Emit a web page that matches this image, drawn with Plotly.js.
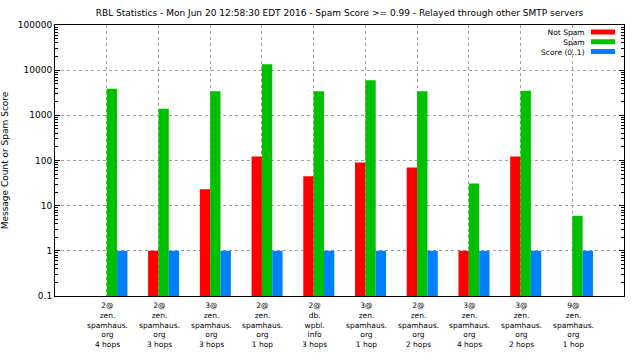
<!DOCTYPE html>
<html>
<head>
<meta charset="utf-8">
<script src="https://cdn.plot.ly/plotly-3.0.1.min.js"></script>
<style>html,body{margin:0;padding:0;background:#fff;} #chart{width:640px;height:360px;}</style>
</head>
<body>
<div id="chart"></div>
<script>
// ---- data ----
var categories = [0, 1, 2, 3, 4, 5, 6, 7, 8, 9];
var tickLabels = [
  '2@\nzen.\nspamhaus.\norg\n4 hops',
  '2@\nzen.\nspamhaus.\norg\n3 hops',
  '3@\nzen.\nspamhaus.\norg\n3 hops',
  '2@\nzen.\nspamhaus.\norg\n1 hop',
  '2@\ndb.\nwpbl.\ninfo\n3 hops',
  '3@\nzen.\nspamhaus.\norg\n1 hop',
  '2@\nzen.\nspamhaus.\norg\n2 hops',
  '3@\nzen.\nspamhaus.\norg\n4 hops',
  '3@\nzen.\nspamhaus.\norg\n2 hops',
  '9@\nzen.\nspamhaus.\norg\n1 hop'
];
var seriesNames = ['Not Spam', 'Spam', 'Score (0..1)'];
var notSpam = [null, 1, 23, 122, 45, 90, 70, 1, 123, null];
var spam = [3900, 1400, 3400, 13500, 3400, 6000, 3400, 31, 3500, 6];
var score = [1, 1, 1, 1, 1, 1, 1, 1, 1, 1];
var yTickVals = [0.1, 1, 10, 100, 1000, 10000, 100000];
var yTickText = ['0.1', '1', '10', '100', '1000', '10000', '100000'];

// ---- styles ----
var colors = ['#ff0000', '#00c000', '#0080ff'];
var offsets = [-0.2, 0, 0.2];
var FONT = 'DejaVu Sans';
var seriesData = [notSpam, spam, score];

var traces = seriesData.map(function (vals, k) {
  return {
    type: 'bar',
    x: categories,
    y: vals,
    name: seriesNames[k],
    width: 0.2,
    offset: offsets[k],
    marker: {color: colors[k], line: {width: 0}},
    showlegend: false,
    hoverinfo: 'x+y+name'
  };
});

var annotations = [];
var shapes = [];
// multi-line category labels
tickLabels.forEach(function (lbl, i) {
  annotations.push({
    x: categories[i], xref: 'x', y: 0, yref: 'paper',
    xanchor: 'center', yanchor: 'top', align: 'center',
    xshift: 1, yshift: -3,
    text: lbl.split('\n').join('<br>'), showarrow: false,
    font: {family: FONT, size: 7.5, color: '#000'}
  });
});

// gnuplot-style legend: text then swatch on the right
var plotBottom = 296, plotLeft = 55, plotW = 569, plotH = 271;
function py(pix) { return (plotBottom - pix) / plotH; }
function px(pix) { return (pix - plotLeft) / plotW; }
var rowStep = 9.75, row0 = 32;
annotations.push({
  x: px(587), xref: 'paper', y: py(row0 - 5.8), yref: 'paper',
  xanchor: 'right', yanchor: 'top', align: 'right',
  text: seriesNames.join('<br>'), showarrow: false,
  font: {family: FONT, size: 7.5, color: '#000'}
});
seriesNames.forEach(function (nm, k) {
  var cy = row0 + rowStep * k;
  shapes.push({
    type: 'rect', xref: 'paper', yref: 'paper',
    x0: px(591), x1: px(615), y0: py(cy + 2.5), y1: py(cy - 2.5),
    fillcolor: colors[k], line: {width: 0}
  });
});

var layout = {
  width: 640, height: 360,
  margin: {l: 55, r: 16, t: 25, b: 64, pad: 0},
  paper_bgcolor: '#fff', plot_bgcolor: '#fff',
  barmode: 'overlay',
  font: {family: FONT, size: 9, color: '#000'},
  title: {
    text: 'RBL Statistics - Mon Jun 20 12:58:30 EDT 2016 - Spam Score >= 0.99 - Relayed through other SMTP servers',
    font: {family: FONT, size: 9, color: '#000'},
    x: 0.5305, xref: 'container', xanchor: 'center',
    y: 1 - 12.5 / 360, yref: 'container', yanchor: 'middle'
  },
  xaxis: {
    range: [-1, 10],
    tickvals: categories,
    showticklabels: false,
    ticks: '',
    showgrid: true, gridcolor: '#a0a0a0', griddash: '3px,3px', gridwidth: 1,
    zeroline: false,
    showline: true, linecolor: '#000', linewidth: 1, mirror: true,
    fixedrange: true
  },
  yaxis: {
    type: 'log',
    range: [-1, 5],
    tickvals: yTickVals, ticktext: yTickText,
    ticks: 'inside', ticklen: 5, tickcolor: '#000', tickwidth: 1,
    minor: {ticks: 'inside', ticklen: 3, tickcolor: '#000', tickwidth: 1, showgrid: false, dtick: 'D1'},
    showgrid: true, gridcolor: '#a0a0a0', griddash: '3px,3px', gridwidth: 1,
    zeroline: false,
    showline: true, linecolor: '#000', linewidth: 1, mirror: 'allticks',
    tickfont: {family: FONT, size: 9, color: '#000'},
    title: {text: 'Message Count or Spam Score', font: {family: FONT, size: 9, color: '#000'}, standoff: 7},
    fixedrange: true
  },
  annotations: annotations,
  shapes: shapes
};

Plotly.newPlot('chart', traces, layout, {displayModeBar: false, staticPlot: true});
</script>
</body>
</html>
